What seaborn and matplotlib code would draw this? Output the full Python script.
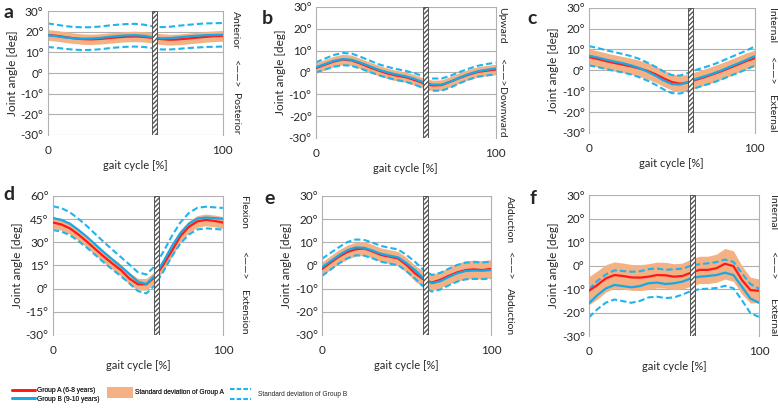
import numpy as np
import pandas as pd
import seaborn as sns
import matplotlib.pyplot as plt
from matplotlib.lines import Line2D
from matplotlib.patches import Patch
from matplotlib.legend_handler import HandlerBase

# gait cycle sample points [%]
gait = list(range(0, 101, 5))

# a - anterior / posterior tilt
a_mean_A = [18.4, 18.0, 17.4, 16.8, 16.4, 16.3, 16.5, 16.9, 17.3, 17.6, 17.7, 17.5, 17.0, 16.4, 16.1, 16.3, 16.7, 17.1, 17.5, 17.8, 18.0]
a_sd_A = [2.6, 2.6, 2.6, 2.5, 2.5, 2.5, 2.5, 2.5, 2.5, 2.5, 2.5, 2.5, 2.5, 2.6, 2.6, 2.6, 2.6, 2.6, 2.6, 2.6, 2.6]
a_mean_B = [18.3, 17.8, 17.2, 16.8, 16.6, 16.7, 17.0, 17.5, 17.9, 18.2, 18.3, 18.0, 17.3, 16.8, 16.9, 17.3, 17.7, 18.0, 18.3, 18.4, 18.5]
a_sd_B = [5.7, 5.6, 5.5, 5.5, 5.5, 5.5, 5.5, 5.5, 5.5, 5.5, 5.5, 5.4, 5.3, 5.4, 5.5, 5.6, 5.6, 5.7, 5.7, 5.7, 5.7]

# b - upward / downward obliquity
b_mean_A = [2.0, 3.5, 5.0, 5.9, 5.5, 4.0, 2.3, 0.8, -0.5, -1.5, -2.2, -3.5, -5.0, -6.0, -5.8, -4.2, -2.5, -1.0, 0.2, 0.8, 1.3]
b_sd_A = [2.4, 2.4, 2.4, 2.4, 2.4, 2.4, 2.4, 2.4, 2.4, 2.4, 2.4, 2.4, 2.4, 2.4, 2.4, 2.4, 2.4, 2.4, 2.4, 2.4, 2.4]
b_mean_B = [2.3, 3.8, 5.3, 6.1, 5.8, 4.4, 2.8, 1.2, 0.0, -1.0, -1.8, -3.0, -4.6, -5.6, -5.6, -4.2, -2.4, -0.8, 0.5, 1.2, 1.8]
b_sd_B = [2.3, 2.5, 2.7, 2.8, 2.8, 2.7, 2.6, 2.5, 2.5, 2.5, 2.5, 2.6, 2.7, 2.8, 2.8, 2.7, 2.6, 2.5, 2.5, 2.6, 2.7]

# c - internal / external rotation (pelvis)
c_mean_A = [6.4, 5.5, 4.5, 3.6, 2.8, 2.0, 1.0, -0.2, -1.8, -3.8, -5.6, -6.4, -5.8, -4.4, -3.2, -1.8, -0.4, 1.2, 2.8, 4.5, 5.8]
c_sd_A = [3.9, 3.9, 3.9, 3.9, 3.9, 3.9, 3.9, 3.9, 3.9, 3.9, 3.9, 3.9, 3.9, 3.9, 3.9, 3.9, 3.9, 3.9, 3.9, 3.9, 3.9]
c_mean_B = [7.0, 6.2, 5.2, 4.3, 3.5, 2.5, 1.2, -0.5, -2.5, -4.8, -6.6, -6.8, -5.5, -4.0, -2.8, -1.5, 0.0, 1.7, 3.3, 5.0, 6.8]
c_sd_B = [4.6, 4.6, 4.5, 4.5, 4.4, 4.4, 4.4, 4.3, 4.3, 4.3, 4.3, 4.3, 4.3, 4.3, 4.3, 4.3, 4.4, 4.4, 4.5, 4.5, 4.6]

# d - flexion / extension
d_mean_A = [42.8, 41.5, 39.0, 35.0, 30.4, 25.5, 20.7, 16.2, 12.0, 6.5, 2.8, 2.8, 7.5, 15.5, 24.5, 34.0, 40.0, 43.5, 44.5, 43.8, 42.8]
d_sd_A = [3.8, 3.8, 3.8, 3.8, 3.8, 3.8, 3.8, 3.8, 3.8, 3.8, 3.8, 3.8, 3.8, 3.8, 3.8, 3.8, 3.8, 3.8, 3.8, 3.8, 3.8]
d_mean_B = [45.6, 44.5, 42.0, 38.0, 33.5, 28.5, 23.5, 18.8, 14.2, 9.5, 4.5, 3.0, 8.5, 17.5, 27.5, 36.0, 42.0, 45.3, 46.0, 45.6, 45.2]
d_sd_B = [7.7, 7.6, 7.4, 7.2, 7.0, 6.8, 6.6, 6.4, 6.2, 6.1, 6.1, 6.1, 6.2, 6.4, 6.6, 6.8, 7.0, 7.0, 7.0, 7.0, 7.0]

# e - adduction / abduction
e_mean_A = [-1.5, 1.2, 3.8, 5.8, 7.0, 7.3, 6.0, 4.5, 3.8, 3.0, 0.2, -3.4, -6.0, -7.4, -6.2, -4.5, -3.0, -2.0, -1.7, -2.0, -1.5]
e_sd_A = [3.0, 3.0, 3.0, 3.0, 3.0, 3.0, 3.0, 3.0, 3.0, 3.0, 3.2, 3.4, 3.5, 3.5, 3.5, 3.6, 3.8, 4.0, 4.0, 4.0, 4.0]
e_mean_B = [-0.8, 1.8, 4.4, 6.6, 7.8, 7.6, 6.4, 5.0, 4.2, 3.5, 1.0, -2.0, -5.5, -7.7, -6.8, -5.0, -3.4, -2.4, -2.2, -2.3, -2.0]
e_sd_B = [3.7, 3.6, 3.5, 3.5, 3.4, 3.4, 3.4, 3.4, 3.4, 3.4, 3.5, 3.6, 3.6, 3.6, 3.6, 3.6, 3.6, 3.6, 3.6, 3.6, 3.6]

# f - internal / external rotation (hip)
f_mean_A = [-10.7, -8.2, -5.4, -4.0, -4.4, -5.0, -5.1, -4.7, -4.0, -4.1, -4.7, -4.4, -3.0, -1.8, -1.8, -1.1, 0.8, -0.2, -6.1, -10.4, -10.7]
f_sd_A = [6.0, 6.0, 5.8, 5.6, 5.5, 5.5, 5.5, 5.5, 5.5, 5.5, 5.5, 5.5, 5.8, 5.8, 5.8, 6.0, 6.5, 6.5, 6.0, 5.5, 5.0]
f_mean_B = [-16.0, -12.5, -9.7, -8.2, -8.7, -9.2, -8.7, -7.5, -7.2, -7.8, -7.5, -6.8, -5.4, -4.7, -4.4, -4.0, -3.0, -4.0, -9.0, -14.0, -15.8]
f_sd_B = [6.0, 6.0, 6.0, 6.2, 6.4, 6.6, 6.3, 6.0, 6.0, 6.0, 6.0, 5.5, 5.4, 5.3, 5.4, 5.5, 5.6, 5.6, 5.7, 6.2, 6.0]

panel_letters = ['a', 'b', 'c', 'd', 'e', 'f']
side_labels = [('Anterior', 'Posterior'), ('Upward', 'Downward'), ('Internal', 'External'),
               ('Flexion', 'Extension'), ('Adduction', 'Abduction'), ('Internal', 'External')]
yticks_small = [-30, -20, -10, 0, 10, 20, 30]
yticks_knee = [-30, -15, 0, 15, 30, 45, 60]

RED = '#ff1a1a'
BLUE = '#17a9e6'
ORANGE = '#f4b183'
DASH = '#1fb4ee'
GRID = '#b0b0b0'

sns.set_style('white')
plt.rcParams['font.family'] = ['Lato', 'DejaVu Sans']

fig = plt.figure(figsize=(7.78, 4.09), dpi=100)

# axes boxes [left, bottom, width, height] in figure fractions
boxes = [[0.0613, 0.670, 0.225, 0.303],
         [0.406, 0.663, 0.231, 0.320],
         [0.757, 0.675, 0.213, 0.306],
         [0.068, 0.181, 0.2185, 0.340],
         [0.414, 0.181, 0.217, 0.340],
         [0.757, 0.178, 0.2185, 0.345]]
side_x = [1.075, 1.035, 1.10, 1.12, 1.11, 1.08]

data = [(a_mean_A, a_sd_A, a_mean_B, a_sd_B), (b_mean_A, b_sd_A, b_mean_B, b_sd_B),
        (c_mean_A, c_sd_A, c_mean_B, c_sd_B), (d_mean_A, d_sd_A, d_mean_B, d_sd_B),
        (e_mean_A, e_sd_A, e_mean_B, e_sd_B), (f_mean_A, f_sd_A, f_mean_B, f_sd_B)]

for i, (mA, sA, mB, sB) in enumerate(data):
    ax = fig.add_axes(boxes[i])
    df = pd.DataFrame({'gait': gait, 'A': mA, 'sdA': sA, 'B': mB, 'sdB': sB})

    ax.fill_between(df['gait'], df['A'] - df['sdA'], df['A'] + df['sdA'],
                    color=ORANGE, lw=0, zorder=1)
    sns.lineplot(x=df['gait'], y=df['B'] + df['sdB'], ax=ax, color=DASH, lw=1.5,
                 linestyle=(0, (3, 1.5)), zorder=2)
    sns.lineplot(x=df['gait'], y=df['B'] - df['sdB'], ax=ax, color=DASH, lw=1.5,
                 linestyle=(0, (3, 1.5)), zorder=2)
    sns.lineplot(x=df['gait'], y=df['A'], ax=ax, color=RED, lw=1.6, zorder=3)
    sns.lineplot(x=df['gait'], y=df['B'], ax=ax, color=BLUE, lw=1.6, zorder=3)

    # stance / swing boundary
    ax.axvspan(59.5, 62.5, facecolor='white', edgecolor='#555555', hatch='///////',
               lw=0.7, zorder=5)

    ticks = yticks_knee if i == 3 else yticks_small
    ax.set_ylim(ticks[0], ticks[-1])
    ax.set_xlim(0, 100)
    ax.set_yticks(ticks)
    ax.set_yticklabels([f'{t}°' for t in ticks], fontsize=8.5)
    ax.set_xticks([0, 100])
    ax.set_xticklabels(['0', '100'], fontsize=8.5)
    ax.tick_params(length=0, axis='x', pad=7)
    ax.tick_params(length=0, axis='y', pad=3)
    ax.grid(axis='y', color=GRID, lw=0.8)
    for s in ['top', 'bottom']:
        ax.spines[s].set_visible(False)
    for s in ['left', 'right']:
        ax.spines[s].set_color(GRID)
        ax.spines[s].set_linewidth(0.8)

    ax.set_xlabel('gait cycle [%]', fontsize=8, labelpad=3)
    ax.set_ylabel('Joint angle [deg]', fontsize=8.5, labelpad=2)

    top, bottom = side_labels[i]
    ax.text(side_x[i], 1.0, top, transform=ax.transAxes, rotation=270,
            ha='center', va='top', fontsize=7.5)
    ax.text(side_x[i], 0.5, '<\u2014\u2014>', transform=ax.transAxes, rotation=270,
            ha='center', va='center', fontsize=7.5)
    ax.text(side_x[i], 0.0, bottom, transform=ax.transAxes, rotation=270,
            ha='center', va='bottom', fontsize=7.5)

# panel letters
letter_pos = [(0.004, 0.99), (0.337, 0.975), (0.678, 0.975),
              (0.004, 0.545), (0.340, 0.535), (0.681, 0.535)]
for (x, y), L in zip(letter_pos, panel_letters):
    fig.text(x, y, L, fontsize=14, fontweight='bold', ha='left', va='top')


class TwoDashHandler(HandlerBase):
    def create_artists(self, legend, orig_handle, xdescent, ydescent, width, height,
                       fontsize, trans):
        arts = []
        for yy in (height - ydescent, -ydescent):
            ln = Line2D([-xdescent, width - xdescent], [yy, yy], color=DASH, lw=1.5,
                        linestyle=(0, (2.2, 1.0)), transform=trans)
            arts.append(ln)
        return arts


leg_font = {'family': ['Liberation Sans'], 'size': 4.8}
h_groups = [Line2D([], [], color=RED, lw=2), Line2D([], [], color=BLUE, lw=2)]
leg1 = fig.legend(h_groups, ['Group A (6-8 years)', 'Group B (9-10 years)'],
                  loc='upper left', bbox_to_anchor=(12 / 778, 1 - 387 / 409), frameon=False,
                  prop=leg_font, handlelength=3.4, labelspacing=0.25, handletextpad=0.35,
                  borderpad=0, borderaxespad=0)
leg2 = fig.legend([Patch(facecolor=ORANGE, edgecolor='none')], ['Standard deviation of Group A'],
                  loc='upper left', bbox_to_anchor=(107 / 778, 1 - 387 / 409), frameon=False,
                  prop=leg_font, handlelength=3.9, handleheight=2.1, handletextpad=0.3,
                  borderpad=0, borderaxespad=0)
leg3 = fig.legend([Line2D([], [])], ['Standard deviation of Group B'],
                  handler_map={Line2D: TwoDashHandler()},
                  loc='upper left', bbox_to_anchor=(230 / 778, 1 - 389 / 409), frameon=False,
                  prop=leg_font, handlelength=3.2, handleheight=2.0, handletextpad=1.0,
                  borderpad=0, borderaxespad=0)
fig.add_artist(leg1)
fig.add_artist(leg2)

fig.savefig('out.png', dpi=100)
